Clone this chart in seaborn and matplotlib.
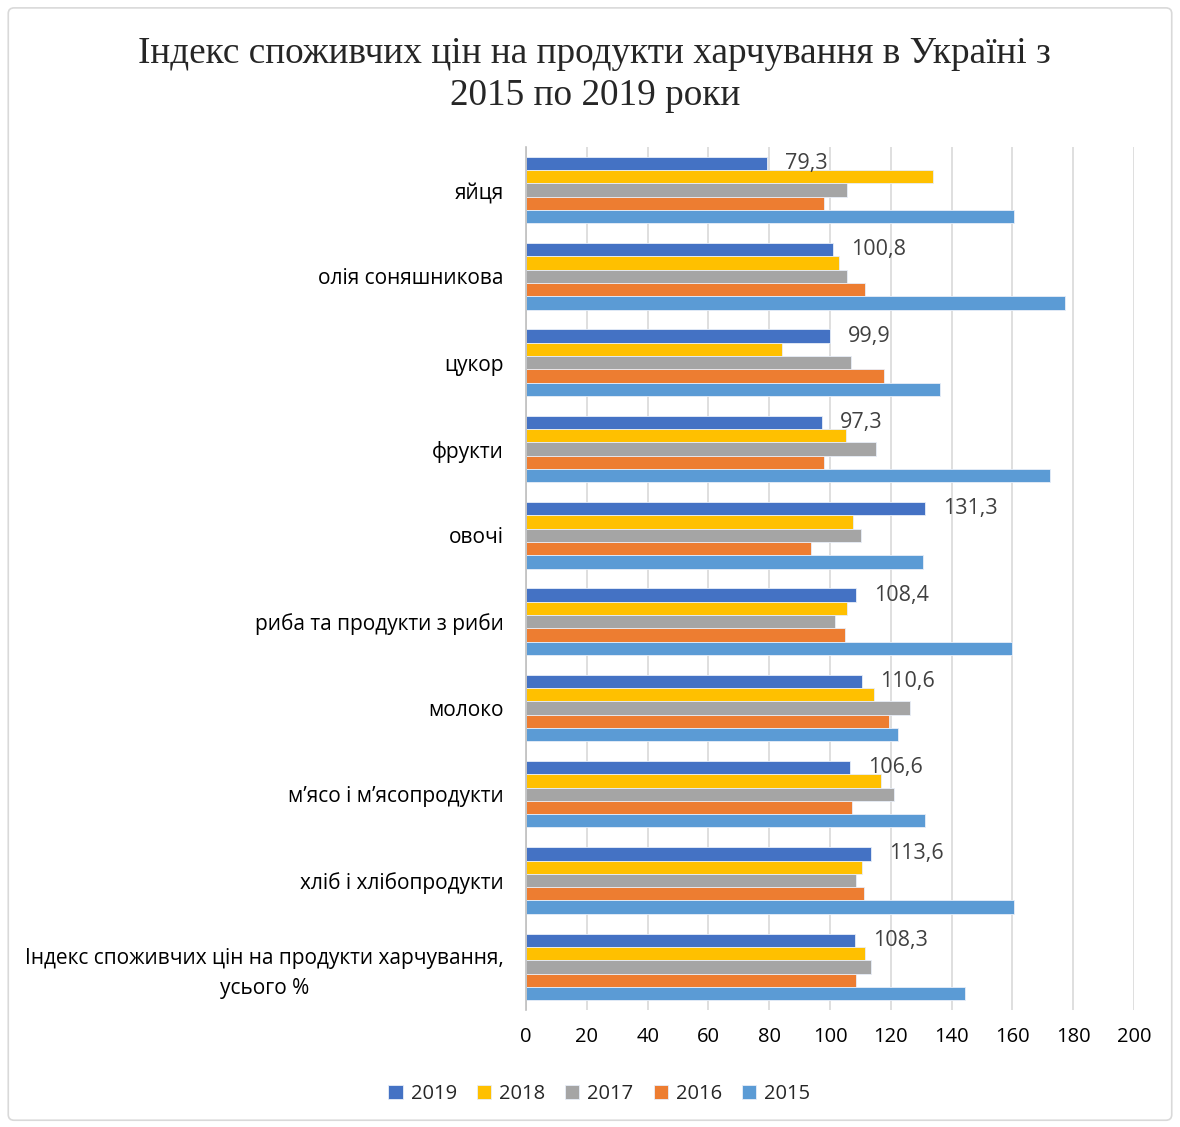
import matplotlib
matplotlib.use("Agg")
import matplotlib.pyplot as plt
from matplotlib.patches import FancyBboxPatch
import seaborn as sns
import pandas as pd

categories = [
    "яйця",
    "олія соняшникова",
    "цукор",
    "фрукти",
    "овочі",
    "риба та продукти з риби",
    "молоко",
    "м\u2019ясо і м\u2019ясопродукти",
    "хліб і хлібопродукти",
    "Індекс споживчих цін на продукти харчування,\nусього %",
]
years = ["2019", "2018", "2017", "2016", "2015"]

v2019 = [79.3, 100.8, 99.9, 97.3, 131.3, 108.4, 110.6, 106.6, 113.6, 108.3]
v2018 = [134.0, 102.8, 84.3, 105.3, 107.5, 105.6, 114.6, 116.6, 110.5, 111.5]
v2017 = [105.7, 105.5, 106.8, 115.2, 110.3, 101.6, 126.2, 120.9, 108.4, 113.3]
v2016 = [98.0, 111.5, 117.7, 98.1, 93.6, 105.0, 119.3, 107.2, 111.0, 108.5]
v2015 = [160.4, 177.2, 136.0, 172.3, 130.7, 160.0, 122.5, 131.2, 160.5, 144.3]

palette = ["#4472C4", "#FFC000", "#A5A5A5", "#ED7D31", "#5B9BD5"]

series = dict(zip(years, [v2019, v2018, v2017, v2016, v2015]))
rows = []
for y in years:
    for c, v in zip(categories, series[y]):
        rows.append({"category": c, "year": y, "value": v})
df = pd.DataFrame(rows)

sns.set_style("white")
plt.rcParams["font.family"] = ["Open Sans", "DejaVu Sans"]

fig = plt.figure(figsize=(11.8, 11.27), dpi=100)
ax = fig.add_axes([0.4458, 0.1038, 0.5153, 0.7658])

sns.barplot(
    data=df, y="category", x="value", hue="year", order=categories,
    hue_order=years, palette=palette, saturation=1, orient="h", width=0.77,
    gap=0, ax=ax, edgecolor="#e8eef8", linewidth=0.6, legend=True,
)

ax.set_xlim(0, 200)
ax.set_xticks(range(0, 201, 20))
ax.grid(axis="x", color="#d9d9d9", linewidth=1.2)
ax.set_axisbelow(True)
for s in ["top", "right", "bottom"]:
    ax.spines[s].set_visible(False)
ax.spines["left"].set_color("#bfbfbf")
ax.spines["left"].set_linewidth(1.2)
ax.set_xlabel("")
ax.set_ylabel("")
ax.tick_params(axis="x", length=0, pad=12, labelsize=14.5, labelcolor="#000000")
ax.tick_params(axis="y", length=0, pad=16, labelsize=15, labelcolor="#000000")
for lab in ax.get_yticklabels():
    lab.set_multialignment("center")
    lab.set_linespacing(1.55)

# value labels for the 2019 bars
cont2019 = ax.containers[0]
labels = [f"{v:.1f}".replace(".", ",") for v in v2019]
ax.bar_label(cont2019, labels=labels, padding=13, fontsize=15.5, color="#404040")

handles, lbls = ax.get_legend_handles_labels()
ax.legend_.remove()
fig.legend(handles, lbls, loc="center", bbox_to_anchor=(0.508, 0.0295), ncol=5,
           frameon=False, fontsize=14.5, handlelength=0.7, handleheight=0.7,
           handletextpad=0.4, columnspacing=1.0)

fig.text(0.504, 0.9335,
         "Індекс споживчих цін на продукти харчування в Україні з\n2015 по 2019 роки",
         ha="center", va="center", fontsize=26.8, family=["Liberation Serif"],
         linespacing=1.3)

border = FancyBboxPatch((0.007, 0.006), 0.986, 0.987, boxstyle="round,pad=0,rounding_size=0.005",
                        transform=fig.transFigure, fill=False, edgecolor="#d9d9d9",
                        linewidth=1.2)
fig.patches.append(border)

fig.savefig("out.png", dpi=100, facecolor="white")
